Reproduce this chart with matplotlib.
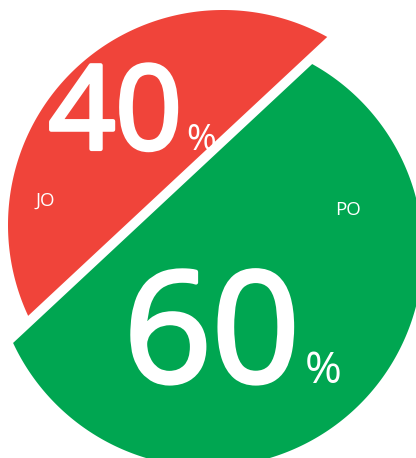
import numpy as np
import matplotlib.pyplot as plt
import matplotlib.patheffects as pe
from matplotlib.patches import Polygon

# Data
labels = ['JO', 'PO']
shares = [40, 60]
colors = ['#F0443A', '#00A651']

# Layout (radius = 1)
start_angle = 61.0
offsets = [(0.0, 0.0), (-0.07, -0.126)]   # second piece is shifted down/left
W, H = 416, 458
scale = 215.0           # pixels per radius
cx_px, cy_px = 223, 225  # centre of first piece in pixels

fig = plt.figure(figsize=(W / 100, H / 100), dpi=100)
ax = fig.add_axes([0, 0, 1, 1])
ax.set_xlim(-cx_px / scale, (W - cx_px) / scale)
ax.set_ylim(-(H - cy_px) / scale, cy_px / scale)
ax.set_aspect('equal')
ax.axis('off')

# each piece is a chord shape: arc of share*360 deg closed by a straight line
a0 = start_angle
for share, col, (ox, oy) in zip(shares, colors, offsets):
    a1 = a0 + share / 100 * 360
    t = np.radians(np.linspace(a0, a1, 400))
    pts = np.column_stack([ox + np.cos(t), oy + np.sin(t)])
    ax.add_patch(Polygon(pts, closed=True, facecolor=col, edgecolor='none'))
    a0 = a1

font = 'Open Sans'
# thicken regular glyphs a bit (semibold look)
semi = lambda w: [pe.withStroke(linewidth=w, foreground='white')]

def px(x, y):
    return x / W, 1 - y / H

# big numbers
ax.text(*px(182, 149), str(shares[0]), transform=ax.transAxes, ha='right', va='baseline',
        fontsize=84, color='white', family=font, path_effects=semi(3))
ax.text(*px(186, 150), '%', transform=ax.transAxes, ha='left', va='baseline',
        fontsize=26, color='white', family=font)
ax.text(*px(300, 382), str(shares[1]), transform=ax.transAxes, ha='right', va='baseline',
        fontsize=111, color='white', family=font, path_effects=semi(3))
ax.text(*px(305, 383), '%', transform=ax.transAxes, ha='left', va='baseline',
        fontsize=32, color='white', family=font)

# category labels
ax.text(*px(45, 206), labels[0], transform=ax.transAxes, ha='center', va='baseline',
        fontsize=13.5, color='white', family=font)
ax.text(*px(348, 215), labels[1], transform=ax.transAxes, ha='center', va='baseline',
        fontsize=13.5, color='white', family=font)

fig.savefig('out.png', dpi=100)
